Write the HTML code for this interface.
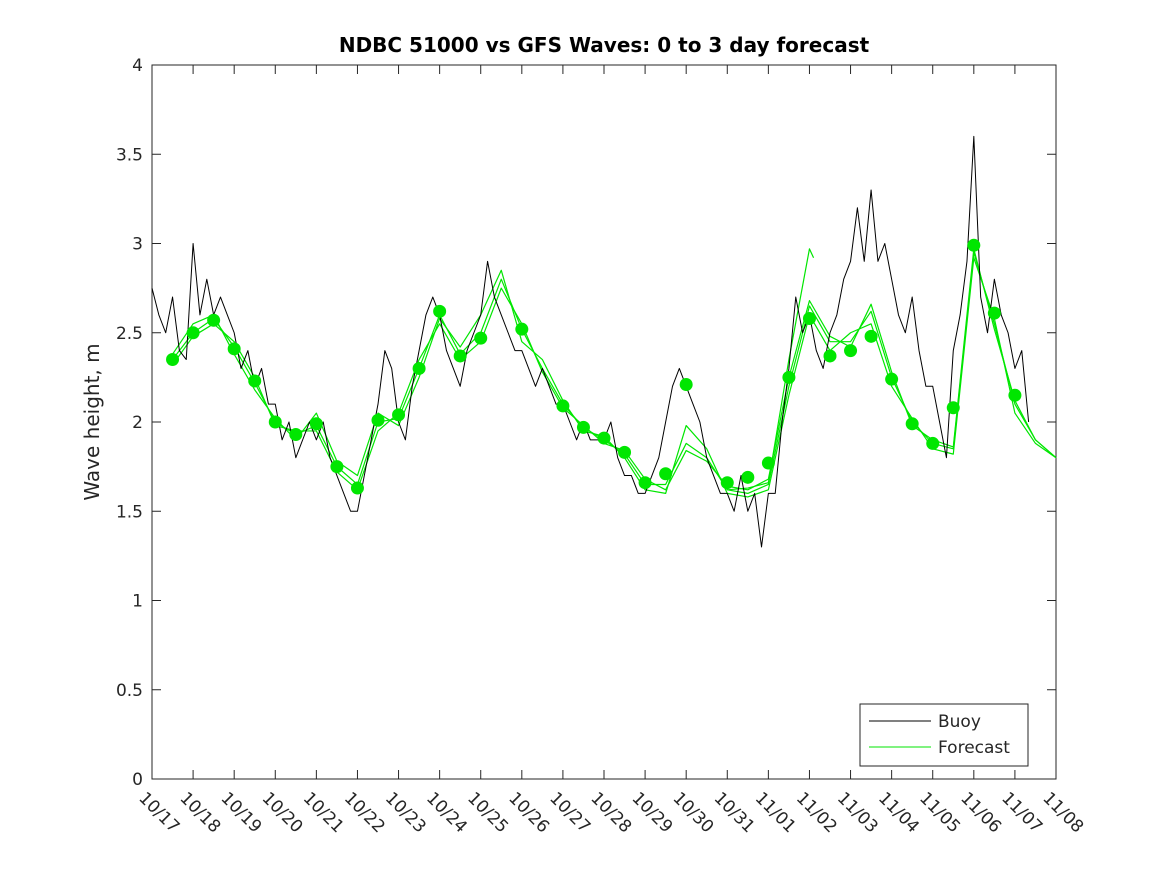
<!DOCTYPE html>
<html><head><meta charset="utf-8"><style>
body{margin:0;background:#fff}
svg text{font-family:"DejaVu Sans","Liberation Sans",sans-serif;fill:#262626}
</style></head><body>
<svg id="chart" width="1167" height="875" xmlns="http://www.w3.org/2000/svg">
<rect width="1167" height="875" fill="#fff"/>
<text x="604" y="52" text-anchor="middle" font-size="20" font-weight="bold" style="fill:#000">NDBC 51000 vs GFS Waves: 0 to 3 day forecast</text>
<text transform="translate(99,422) rotate(-90)" text-anchor="middle" font-size="20">Wave height, m</text>
<g id="plot"></g>
</svg>
<script>
const xTickLabels=["10/17","10/18","10/19","10/20","10/21","10/22","10/23","10/24","10/25","10/26","10/27","10/28","10/29","10/30","10/31","11/01","11/02","11/03","11/04","11/05","11/06","11/07","11/08"];
const yTickLabels=["0","0.5","1","1.5","2","2.5","3","3.5","4"];
// buoy: 6 samples per day starting 10/17 00:00
const buoy=[2.75,2.6,2.5,2.7,2.4,2.35, 3.0,2.6,2.8,2.6,2.7,2.6, 2.5,2.3,2.4,2.2,2.3,2.1, 2.1,1.9,2.0,1.8,1.9,2.0, 1.9,2.0,1.8,1.7,1.6,1.5, 1.5,1.7,1.9,2.1,2.4,2.3, 2.0,1.9,2.2,2.4,2.6,2.7, 2.6,2.4,2.3,2.2,2.4,2.5, 2.6,2.9,2.7,2.6,2.5,2.4, 2.4,2.3,2.2,2.3,2.2,2.1, 2.1,2.0,1.9,2.0,1.9,1.9, 1.9,2.0,1.8,1.7,1.7,1.6, 1.6,1.7,1.8,2.0,2.2,2.3, 2.2,2.1,2.0,1.8,1.7,1.6, 1.6,1.5,1.7,1.5,1.6,1.3, 1.6,1.6,2.0,2.3,2.7,2.5, 2.6,2.4,2.3,2.5,2.6,2.8, 2.9,3.2,2.9,3.3,2.9,3.0, 2.8,2.6,2.5,2.7,2.4,2.2, 2.2,2.0,1.8,2.4,2.6,2.9, 3.6,2.7,2.5,2.8,2.6,2.5, 2.3,2.4,2.0];
// forecast runs: 2 samples per day starting 10/17 12:00
const fcA=[2.35,2.50,2.58,2.42,2.22,2.00,1.93,1.98,1.75,1.65,2.00,2.02,2.30,2.60,2.38,2.50,2.80,2.52,2.30,2.10,1.97,1.90,1.82,1.65,1.65,1.88,1.80,1.62,1.60,1.65,2.20,2.65,2.45,2.45,2.62,2.25,2.00,1.88,1.85,2.95,2.55,2.10,1.90,1.80];
const fcB=[2.38,2.55,2.60,2.38,2.18,2.02,1.90,2.05,1.78,1.70,2.05,1.98,2.25,2.58,2.42,2.60,2.85,2.45,2.35,2.12,1.95,1.92,1.80,1.62,1.60,1.98,1.85,1.60,1.58,1.62,2.15,2.60,2.40,2.50,2.55,2.20,2.02,1.85,1.82,2.92,2.58,2.05,1.88,1.80];
const fcC=[2.32,2.48,2.55,2.45,2.25,1.98,1.95,1.95,1.72,1.62,1.95,2.05,2.35,2.55,2.35,2.45,2.75,2.55,2.28,2.08,1.98,1.88,1.84,1.68,1.62,1.84,1.78,1.64,1.62,1.68,2.25,2.68,2.48,2.42,2.66,2.28,1.98,1.90,1.86,2.97,2.52,2.12,1.90,1.80];
const spikeDays=[14,14.5,15,15.5,16,16.1];
const spikeVals=[1.62,1.63,1.66,2.35,2.97,2.92];
const dotVals=[2.35,2.50,2.57,2.41,2.23,2.00,1.93,1.99,1.75,1.63,2.01,2.04,2.30,2.62,2.37,2.47,null,2.52,null,2.09,1.97,1.91,1.83,1.66,1.71,2.21,null,1.66,1.69,1.77,2.25,2.58,2.37,2.40,2.48,2.24,1.99,1.88,2.08,2.99,2.61,2.15];

const X0=152,X1=1056,Y0=779,Y1=65;
const xs=d=>X0+(X1-X0)*d/22;
const ys=v=>Y0-(Y0-Y1)*v/4;
const NS="http://www.w3.org/2000/svg";
const g=document.getElementById('plot');
function mk(t,a){const e=document.createElementNS(NS,t);for(const k in a)e.setAttribute(k,a[k]);g.appendChild(e);return e;}

let e=mk('rect',{x:X0,y:Y1,width:X1-X0,height:Y0-Y1,fill:'none',stroke:'#262626','stroke-width':1});



xTickLabels.forEach((l,i)=>{const x=xs(i);
 mk('line',{x1:x,x2:x,y1:Y0,y2:Y0-9,stroke:'#262626'});mk('line',{x1:x,x2:x,y1:Y1,y2:Y1+9,stroke:'#262626'});
 const t=mk('text',{transform:`translate(${x-14},${Y0+20}) rotate(45)`,'font-size':17});t.textContent=l;
 
 });
yTickLabels.forEach((l,i)=>{const y=ys(i*0.5);
 mk('line',{x1:X0,x2:X0+9,y1:y,y2:y,stroke:'#262626'});mk('line',{x1:X1,x2:X1-9,y1:y,y2:y,stroke:'#262626'});
 const t=mk('text',{x:X0-9,y:y+6,'text-anchor':'end','font-size':17});t.textContent=l;
 
 });

function line(pts,stroke,w,name){const p=mk('polyline',{points:pts.map(q=>q.join(',')).join(' '),fill:'none',stroke:stroke,'stroke-width':w,'stroke-linejoin':'round'});
 
 }
[fcA,fcB,fcC].forEach((a,k)=>line(a.map((v,i)=>[xs(0.5+i*0.5),ys(v)]),'#00e600',1.2,'forecast-line-'+k));
line(spikeDays.map((d,i)=>[xs(d),ys(spikeVals[i])]),'#00e600',1.2,'forecast-line-spike');
line(buoy.map((v,i)=>[xs(i/6),ys(v)]),'#000',1,'buoy-line');
dotVals.forEach((v,i)=>{if(v===null)return;const c=mk('circle',{cx:xs(0.5+i*0.5),cy:ys(v),r:6.5,fill:'#00e600'});
 
 });

const lg=mk('rect',{x:860,y:704,width:168,height:62,fill:'#fff',stroke:'#262626'});


mk('line',{x1:869,x2:931,y1:721,y2:721,stroke:'#000'});
mk('line',{x1:869,x2:931,y1:747,y2:747,stroke:'#00e600'});
let t1=mk('text',{x:938,y:727,'font-size':17});t1.textContent='Buoy';


let t2=mk('text',{x:938,y:753,'font-size':17});t2.textContent='Forecast';


</script>
</body></html>
